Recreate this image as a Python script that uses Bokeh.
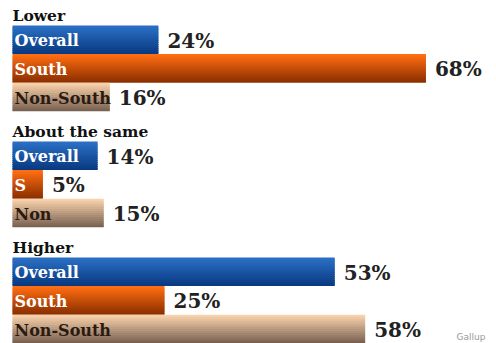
import numpy as np
from bokeh.plotting import figure
from bokeh.models import Range1d, Label
from bokeh.core.properties import value
from bokeh.embed import file_html
from bokeh.resources import INLINE

groups = ["Lower", "About the same", "Higher"]
series = ["Overall", "South", "Non-South"]
inner_labels = [["Overall", "South", "Non-South"],
                ["Overall", "S", "Non"],
                ["Overall", "South", "Non-South"]]
overall = [24, 14, 53]
south = [68, 5, 25]
non_south = [16, 15, 58]
source_note = "Gallup"

values = [overall, south, non_south]

# styling / layout
W, H = 496, 343
PX_PER = 6.08
X0 = 12
bar_h = 28.6
block0 = 25
block_step = 116
top_cols = ["#2a6fc4", "#ff6d12", "#f9d2ac"]
bot_cols = ["#0a3a82", "#8c3000", "#7a6252"]
inner_text_cols = ["white", "white", "#2a1a10"]

def hex2rgb(h):
    h = h.lstrip("#")
    return np.array([int(h[i:i+2], 16) for i in (0, 2, 4)], dtype=float)

def rgb2hex(c):
    return "#%02x%02x%02x" % tuple(int(round(v)) for v in c)

p = figure(width=W, height=H, output_backend="svg", toolbar_location=None,
           x_range=Range1d(-X0 / PX_PER, (W - X0) / PX_PER),
           y_range=Range1d(H, 0), min_border=0)
p.axis.visible = False
p.grid.visible = False
p.outline_line_color = None
p.background_fill_color = "white"

N = 14
sl_top, sl_bot, sl_r, sl_c = [], [], [], []
hdr_x, hdr_y, hdr_t = [], [], []
in_x, in_y, in_t, in_c = [], [], [], []
pc_x, pc_y, pc_t = [], [], []
for gi, g in enumerate(groups):
    top = block0 + block_step * gi
    hdr_x.append(0)
    hdr_y.append(top - 1)
    hdr_t.append(g)
    for si in range(len(series)):
        v = values[si][gi]
        btop = top + si * bar_h
        c1, c2 = hex2rgb(top_cols[si]), hex2rgb(bot_cols[si])
        for k in range(N):
            f = k / (N - 1)
            t0 = btop + k * bar_h / N
            t1 = btop + bar_h if k == N - 1 else t0 + bar_h / N + 1.2
            sl_top.append(t0)
            sl_bot.append(t1)
            sl_r.append(v)
            sl_c.append(rgb2hex(c1 + (c2 - c1) * f))
        in_x.append(0)
        in_y.append(btop + bar_h / 2 + 1)
        in_t.append(inner_labels[gi][si])
        in_c.append(inner_text_cols[si])
        pc_x.append(v)
        pc_y.append(btop + bar_h / 2 + 1)
        pc_t.append(f"{v}%")

p.quad(left=0, right=sl_r, top=sl_top, bottom=sl_bot, fill_color=sl_c, line_color=None)

p.text(x=hdr_x, y=hdr_y, text=hdr_t, text_font=value("DejaVu Serif"),
       text_font_style="bold", text_font_size="15.5px", text_color="#111",
       text_baseline="bottom", x_offset=0)
p.text(x=in_x, y=in_y, text=in_t, text_font=value("DejaVu Serif"),
       text_font_style="bold", text_font_size="16px", text_color=in_c,
       text_baseline="middle", x_offset=2)
p.text(x=pc_x, y=pc_y, text=pc_t, text_font=value("DejaVu Serif"),
       text_font_style="bold", text_font_size="20px", text_color="#222",
       text_baseline="middle", x_offset=9)

p.add_layout(Label(x=456, y=2, x_units="screen", y_units="screen", text=source_note,
                   text_font="DejaVu Sans", text_font_size="9px", text_color="#999"))

open("out.html", "w").write(file_html(p, INLINE))
